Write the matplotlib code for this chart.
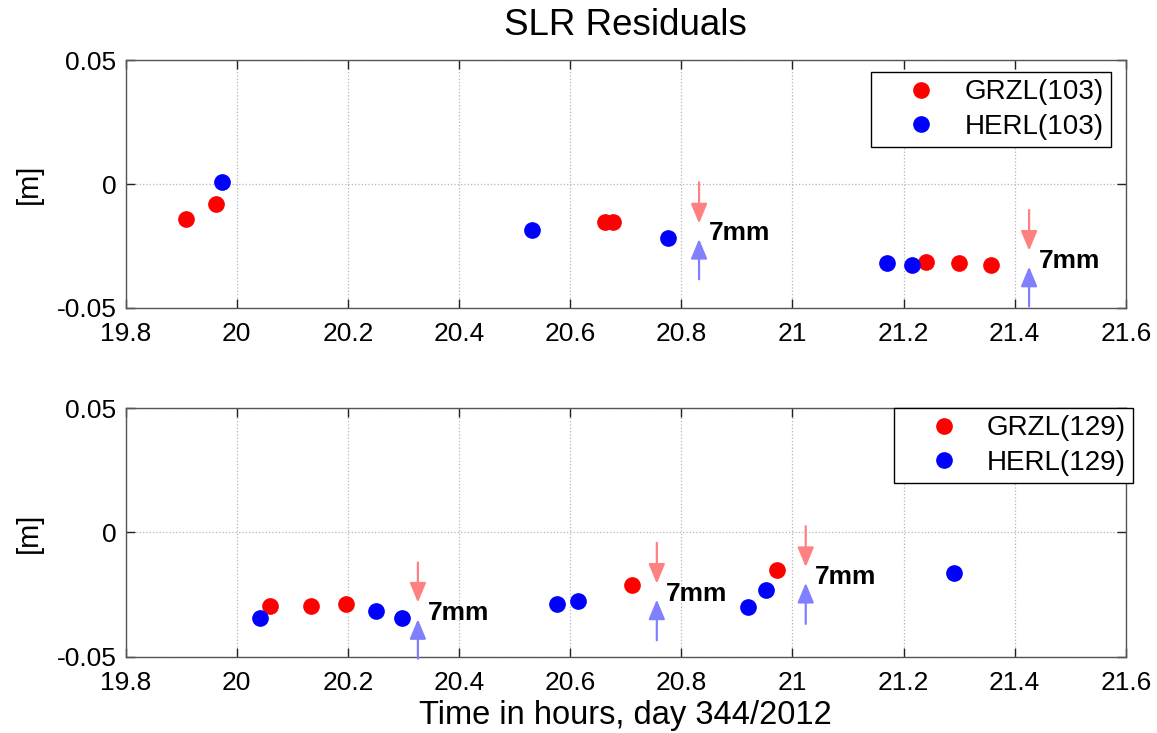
import matplotlib
matplotlib.use("Agg")
import matplotlib.pyplot as plt

plt.rcParams['font.family'] = ['Liberation Sans', 'DejaVu Sans']
plt.rcParams['axes.unicode_minus'] = False

# ---------------- data ----------------
# Top panel (pass 103)
grzl103_t = [19.908, 19.963, 20.662, 20.677, 21.241, 21.300, 21.357]
grzl103_r = [-0.0143, -0.0080, -0.0155, -0.0155, -0.0314, -0.0320, -0.0328]
herl103_t = [19.974, 20.531, 20.777, 21.170, 21.215]
herl103_r = [0.0007, -0.0185, -0.0218, -0.0320, -0.0328]

# Bottom panel (pass 129)
grzl129_t = [20.059, 20.134, 20.196, 20.712, 20.973]
grzl129_r = [-0.0297, -0.0294, -0.0286, -0.0210, -0.0152]
herl129_t = [20.042, 20.250, 20.297, 20.576, 20.615, 20.920, 20.952, 21.290]
herl129_r = [-0.0344, -0.0315, -0.0344, -0.0286, -0.0276, -0.0299, -0.0233, -0.0163]

# "7mm" markers: arrow x, red arrow start/tip, blue arrow start/tip, label position
arr103_x = [20.832, 21.426]
arr103_red_start = [0.0007, -0.0105]
arr103_red_tip = [-0.0159, -0.0269]
arr103_blue_start = [-0.0385, -0.0495]
arr103_blue_tip = [-0.0222, -0.0334]
lab103_x = [20.850, 21.444]
lab103_y = [-0.0199, -0.0310]

arr129_x = [20.326, 20.756, 21.024]
arr129_red_start = [-0.0121, -0.0042, 0.0025]
arr129_red_tip = [-0.0282, -0.0206, -0.0139]
arr129_blue_start = [-0.0508, -0.0434, -0.0368]
arr129_blue_tip = [-0.0349, -0.0270, -0.0203]
lab129_x = [20.344, 20.772, 21.041]
lab129_y = [-0.0323, -0.0249, -0.0179]

gap_label = '7mm'

x_ticks = [19.8, 20.0, 20.2, 20.4, 20.6, 20.8, 21.0, 21.2, 21.4, 21.6]
x_ticklabels = ['19.8', '20', '20.2', '20.4', '20.6', '20.8', '21', '21.2', '21.4', '21.6']
y_ticks = [-0.05, 0.0, 0.05]
y_ticklabels = ['-0.05', '0', '0.05']

RED = '#ff0000'
BLUE = '#0000ff'
LRED = '#ff8080'
LBLUE = '#8080ff'

fig = plt.figure(figsize=(11.57, 7.33), dpi=100)
ax1 = fig.add_axes([0.1086, 0.5802, 0.8644, 0.3373])
ax2 = fig.add_axes([0.1086, 0.1041, 0.8644, 0.3389])

TICKFS = 19


def style(ax):
    ax.set_xlim(19.8, 21.6)
    ax.set_ylim(-0.05, 0.05)
    ax.set_xticks(x_ticks)
    ax.set_xticklabels(x_ticklabels, fontsize=TICKFS)
    ax.set_yticks(y_ticks)
    ax.set_yticklabels(y_ticklabels, fontsize=TICKFS)
    ax.tick_params(axis='both', direction='in', length=6.5, width=1,
                   color='#222222', top=True, right=True)
    ax.tick_params(axis='x', pad=10)
    ax.tick_params(axis='y', pad=6.7)
    ax.grid(True, linestyle=':', color='#b5b5b5', linewidth=0.9)
    for s in ax.spines.values():
        s.set_color('#555555')
        s.set_linewidth(1.0)
    ax.set_ylabel('[m]', fontsize=21)
    ax.yaxis.set_label_coords(-0.083, 0.5)


def arrows(ax, xs, rs, rt, bs, bt, lx, ly):
    for i in range(len(xs)):
        ax.annotate('', xy=(xs[i], rt[i]), xytext=(xs[i], rs[i]),
                    arrowprops=dict(arrowstyle='-|>,head_length=1.2,head_width=0.5',
                                    mutation_scale=10, lw=1.6, color=LRED,
                                    shrinkA=0, shrinkB=0), annotation_clip=False)
        ax.annotate('', xy=(xs[i], bt[i]), xytext=(xs[i], bs[i]),
                    arrowprops=dict(arrowstyle='-|>,head_length=1.2,head_width=0.5',
                                    mutation_scale=10, lw=1.6, color=LBLUE,
                                    shrinkA=0, shrinkB=0), annotation_clip=False)
        ax.text(lx[i], ly[i], gap_label, ha='left', va='center',
                fontsize=19, fontweight='bold', color='black')


style(ax1)
style(ax2)

ax1.plot(grzl103_t, grzl103_r, 'o', color=RED, ms=11, mec=RED, label='GRZL(103)', zorder=3)
ax1.plot(herl103_t, herl103_r, 'o', color=BLUE, ms=11, mec=BLUE, label='HERL(103)', zorder=3)
arrows(ax1, arr103_x, arr103_red_start, arr103_red_tip, arr103_blue_start,
       arr103_blue_tip, lab103_x, lab103_y)

ax2.plot(grzl129_t, grzl129_r, 'o', color=RED, ms=11, mec=RED, label='GRZL(129)', zorder=3)
ax2.plot(herl129_t, herl129_r, 'o', color=BLUE, ms=11, mec=BLUE, label='HERL(129)', zorder=3)
arrows(ax2, arr129_x, arr129_red_start, arr129_red_tip, arr129_blue_start,
       arr129_blue_tip, lab129_x, lab129_y)

leg_kw = dict(loc='upper right', fontsize=20, frameon=True, fancybox=False,
              edgecolor='black', framealpha=1, borderaxespad=0,
              handlelength=3.1, handletextpad=0.0, labelspacing=0.3,
              borderpad=0.25, numpoints=1)
l1 = ax1.legend(bbox_to_anchor=(0.9849, 0.952), **leg_kw)
l2 = ax2.legend(bbox_to_anchor=(1.0071, 1.0), **leg_kw)
for l in (l1, l2):
    l.get_frame().set_linewidth(1.0)
    l.set_zorder(5)

ax1.set_title('SLR Residuals', fontsize=26.5, pad=18)
ax2.set_xlabel('Time in hours, day 344/2012', fontsize=23.5)
ax2.xaxis.set_label_coords(0.5, -0.174)

fig.savefig('out.png', dpi=100)
